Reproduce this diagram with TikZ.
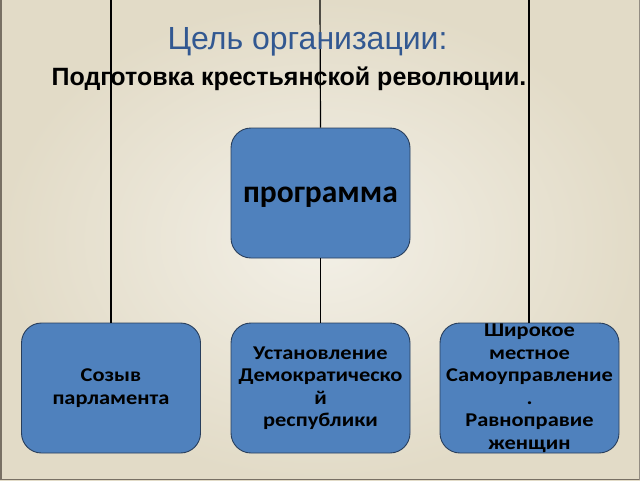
\documentclass[tikz,border=0pt]{standalone}
\usepackage{fontspec}
\setmainfont{Liberation Sans}
\newfontfamily\boxfont{Carlito}
\newfontfamily\boxfontwide[FakeStretch=1.15]{Carlito}
\definecolor{bgmid}{RGB}{243,240,231}
\definecolor{bgedge}{RGB}{226,219,199}
\definecolor{boxblue}{RGB}{79,129,189}
\definecolor{boxline}{RGB}{40,62,92}
\definecolor{titleblue}{RGB}{50,88,145}
\definecolor{framegray}{RGB}{120,112,100}
\tikzset{
  bluebox/.style={draw=boxline, line width=0.9pt, fill=boxblue, rounded corners=20pt,
    minimum width=179pt, minimum height=130pt, inner sep=0pt, align=center,
    font=\boxfontwide\bfseries\fontsize{19.5}{22.5}\selectfont, text=black},
  topbox/.style={bluebox, font=\boxfont\bfseries\fontsize{31.5}{36}\selectfont},
  conn/.style={draw=black, line width=1.2pt}
}
\begin{document}
\begin{tikzpicture}[x=1pt,y=-1pt]
\useasboundingbox (0,0) rectangle (640,480);
\shade[inner color=bgmid, outer color=bgedge] (0,0) rectangle (640,480);
\fill[framegray] (0,0) rectangle (2,480);
\fill[framegray] (0,478.5) rectangle (640,480);
\fill[framegray!80] (638.5,0) rectangle (640,480);
% top anchor points
\coordinate (tl) at (111,0);
\coordinate (tm) at (320,0);
\coordinate (tr) at (529,0);
% boxes
\node[topbox] (prog) at (320.5,193) {\raisebox{-9pt}[0pt][0pt]{программа}};
\node[bluebox] (b1) at (111,388) {Созыв\\парламента};
\node[bluebox] (b2) at (320.5,388) {Установление\\Демократическо\\й\\республики};
\node[bluebox] (b3) at (529.5,388) {Широкое\\местное\\Самоуправление\\.\\Равноправие\\женщин};
% connectors
\draw[conn] (tl) -- (tl |- b1.north);
\draw[conn] (tr) -- (tr |- b3.north);
\draw[conn] (tm) -- (prog.north);
\draw[conn] (prog.south) -- (b2.north);
% titles
\node[anchor=base, text=titleblue, font=\fontsize{32}{36}\selectfont, inner sep=0pt] (title) at (307.5,49) {Цель организации:};
\node[anchor=base, text=black, font=\bfseries\fontsize{25}{29}\selectfont, inner sep=0pt] (subtitle) at (289,85) {Подготовка крестьянской революции.};
\end{tikzpicture}
\end{document}
